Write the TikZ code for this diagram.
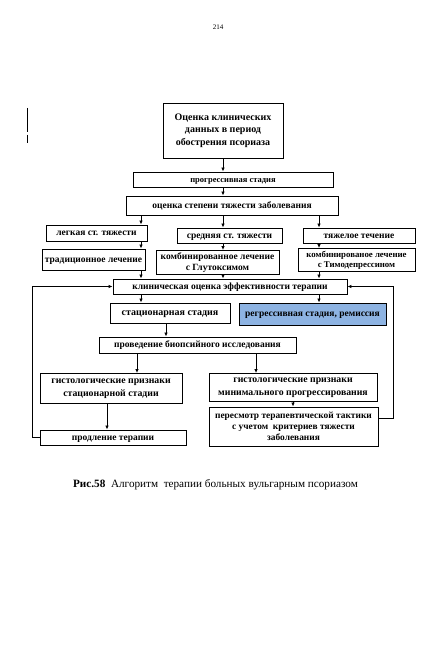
\documentclass[tikz,border=0pt]{standalone}
\usepackage{fontspec}
\setmainfont{Liberation Serif}
\usetikzlibrary{arrows.meta}
\begin{document}
\begin{tikzpicture}[x=1pt,y=-1pt,
  box/.style={draw=black,line width=0.9pt,fill=white,inner sep=1pt,font=\bfseries\fontsize{9.5}{10.5}\selectfont,text height=0.72em,text depth=0.22em},
  mbox/.style={draw=black,line width=0.9pt,fill=white,inner sep=1pt,align=center},
  arr/.style={line width=0.8pt,-{Latex[length=4pt,width=3.5pt]}},
  ln/.style={line width=0.8pt}]
\useasboundingbox (0,0) rectangle (440,650);
\node[font=\fontsize{7}{8}\selectfont] (pg) at (218,27) {214};
\draw[line width=1pt] (27,108) -- (27,132) (27,134.5) -- (27,143);
\node[mbox,minimum width=120,minimum height=55,font=\bfseries\fontsize{10}{12.5}\selectfont] (top) at (223,130.5) {Оценка клинических\\данных в период\\обострения псориаза};
\node[box,minimum width=200,minimum height=15,font=\bfseries\fontsize{8.5}{9.5}\selectfont] (prog) at (233,179.5) {прогрессивная стадия};
\node[box,minimum width=212,minimum height=19] (sev) at (232,205.5) {оценка степени тяжести заболевания};
\node[box,minimum width=101,minimum height=16] (light) at (96.5,233) {легкая ст. тяжести};
\node[box,minimum width=105,minimum height=15] (med) at (229.5,235.5) {средняя ст. тяжести};
\node[box,minimum width=112,minimum height=15] (hard) at (359,235.5) {тяжелое течение};
\node[box,minimum width=103,minimum height=21] (trad) at (93.5,259.5) {традиционное лечение};
\node[mbox,minimum width=123,minimum height=24,font=\bfseries\fontsize{9.5}{10.5}\selectfont] (glut) at (217.5,262.5) {комбинированное лечение\\с Глутоксимом};
\node[mbox,minimum width=117,minimum height=23,font=\bfseries\fontsize{8.8}{10}\selectfont] (thym) at (356.5,260) {комбинированое лечение\\с Тимодепрессином};
\node[box,minimum width=234,minimum height=15] (clin) at (230,286.5) {клиническая оценка эффективности терапии};
\node[box,minimum width=120,minimum height=20,font=\bfseries\fontsize{10}{11}\selectfont] (stat) at (170,313) {стационарная стадия};
\node[box,minimum width=147,minimum height=22,fill={rgb,255:red,141;green,179;blue,226}] (regr) at (312.5,314) {регрессивная стадия, ремиссия};
\node[box,minimum width=197,minimum height=16] (biop) at (197.5,345) {проведение биопсийного исследования};
\node[mbox,minimum width=142,minimum height=30,font=\bfseries\fontsize{9.8}{12.5}\selectfont] (hs) at (111,388.5) {гистологические признаки\\стационарной стадии};
\node[mbox,minimum width=168,minimum height=28,font=\bfseries\fontsize{9.8}{12.5}\selectfont] (hm) at (293,387.5) {гистологические признаки\\минимального прогрессирования};
\node[box,minimum width=146,minimum height=15] (prol) at (113,437.5) {продление терапии};
\node[mbox,minimum width=169,minimum height=39,font=\bfseries\fontsize{9.4}{11}\selectfont] (rev) at (293.5,426.5) {пересмотр терапевтической тактики\\с учетом~ критериев тяжести\\заболевания};
\node[font=\fontsize{11.2}{13}\selectfont] (cap) at (215.5,485) {\textbf{Рис.58}~ Алгоритм~ терапии больных вульгарным псориазом};
\coordinate (xA) at (141,0);
\coordinate (xB) at (223,0);
\coordinate (xC) at (319,0);
\coordinate (xD) at (166,0);
\coordinate (xE) at (137,0);
\coordinate (xF) at (256,0);
\coordinate (xG) at (107,0);
\coordinate (xH) at (293,0);
\coordinate (xL) at (32,0);
\coordinate (xR) at (393,0);
\draw[arr] (top.south -| xB) -- (prog.north -| xB);
\draw[arr] (prog.south -| xB) -- (sev.north -| xB);
\draw[arr] (sev.south -| xA) -- (light.north -| xA);
\draw[arr] (sev.south -| xB) -- (med.north -| xB);
\draw[arr] (sev.south -| xC) -- (hard.north -| xC);
\draw[arr] (light.south -| xA) -- (trad.north -| xA);
\draw[arr] (med.south -| xB) -- (glut.north -| xB);
\draw[arr] (hard.south -| xC) -- (thym.north -| xC);
\draw[arr] (trad.south -| xA) -- (clin.north -| xA);
\draw[arr] (glut.south -| xB) -- (clin.north -| xB);
\draw[arr] (thym.south -| xC) -- (clin.north -| xC);
\draw[arr] (clin.south -| xA) -- (stat.north -| xA);
\draw[arr] (clin.south -| xC) -- (regr.north -| xC);
\draw[arr] (stat.south -| xD) -- (biop.north -| xD);
\draw[arr] (biop.south -| xE) -- (hs.north -| xE);
\draw[arr] (biop.south -| xF) -- (hm.north -| xF);
\draw[arr] (hs.south -| xG) -- (prol.north -| xG);
\draw[arr] (hm.south -| xH) -- (rev.north -| xH);
\draw[arr] (prol.west) -- (prol.west -| xL) |- (clin.west);
\coordinate (revr) at ([yshift=8.5pt]rev.east);
\draw[arr] (revr) -- (revr -| xR) |- (clin.east);
\end{tikzpicture}
\end{document}
